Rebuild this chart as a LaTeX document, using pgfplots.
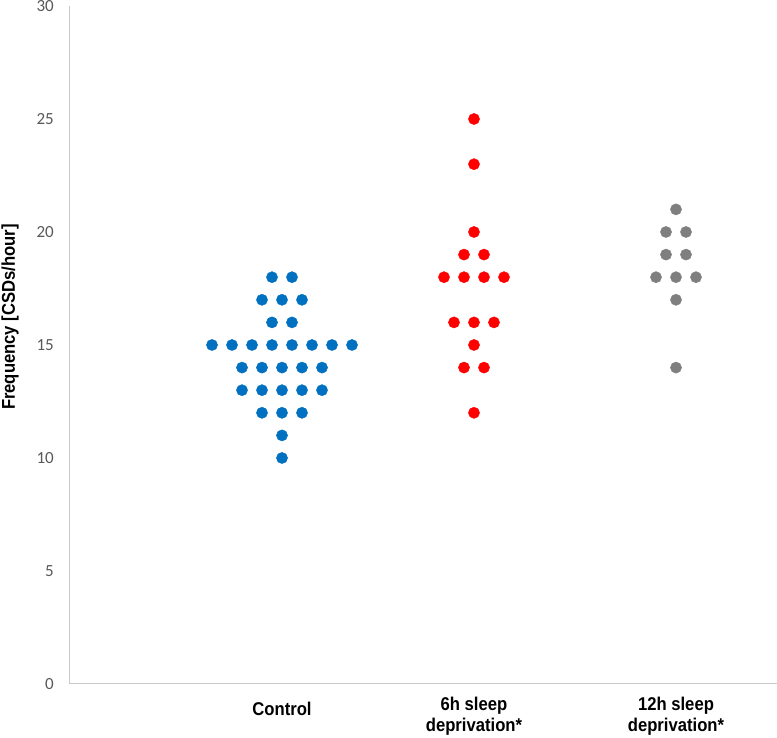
\documentclass[border=0pt]{standalone}
\usepackage{fontspec}
\setmainfont{Liberation Sans}
\newfontfamily\calibri{Carlito}
\newfontfamily\narrowbold[FakeStretch=0.9]{Liberation Sans Bold}
\usepackage{pgfplots}
\pgfplotsset{compat=1.18}
\definecolor{cblue}{HTML}{0070C0}
\definecolor{cred}{HTML}{FF0000}
\definecolor{cgray}{HTML}{7F7F7F}
\definecolor{axgray}{HTML}{C8C8C8}
\definecolor{tickgray}{HTML}{595959}
\begin{document}
\begin{tikzpicture}
\path[use as bounding box] (-70pt,-54pt) rectangle (707pt,684pt);
\begin{axis}[
  at={(0pt,0pt)}, anchor=south west,
  scale only axis, width=707pt, height=678pt,
  xmin=-0.06, xmax=3.475, ymin=0, ymax=30,
  axis x line=bottom, axis y line=left,
  axis line style={axgray, line width=1pt, -},
  ytick={0,5,...,30},
  xtick={1,1.96,2.97},
  xticklabels={\rule{0pt}{19pt}Control, {6h sleep\\deprivation*}, {12h sleep\\deprivation*}},
  major tick length=0pt,
  /pgf/number format/assume math mode=true,
  yticklabel style={font=\calibri\fontsize{17}{17}\selectfont, text=tickgray, anchor=east, inner sep=0pt, xshift=-16pt},
  xticklabel style={font=\narrowbold\fontsize{18.5}{21.5}\selectfont, align=center, anchor=north, inner sep=0pt, yshift=-12.5pt},
  ylabel={Frequency [CSDs/hour]},
  ylabel style={font=\narrowbold\fontsize{18.5}{18.5}\selectfont, at={(axis description cs:-0.0849,0.5413)}, anchor=center},
  clip=false,
]
\addplot[only marks, mark=*, mark size=5.6pt, color=cblue] coordinates {
(0.95,18)(1.05,18)
(0.9,17)(1.0,17)(1.1,17)
(0.95,16)(1.05,16)
(0.65,15)(0.75,15)(0.85,15)(0.95,15)(1.05,15)(1.15,15)(1.25,15)(1.35,15)
(0.8,14)(0.9,14)(1.0,14)(1.1,14)(1.2,14)
(0.8,13)(0.9,13)(1.0,13)(1.1,13)(1.2,13)
(0.9,12)(1.0,12)(1.1,12)
(1.0,11)(1.0,10)
};
\addplot[only marks, mark=*, mark size=5.6pt, color=cred] coordinates {
(1.96,25)
(1.96,23)
(1.96,20)
(1.91,19)(2.01,19)
(1.81,18)(1.91,18)(2.01,18)(2.11,18)
(1.86,16)(1.96,16)(2.06,16)
(1.96,15)
(1.91,14)(2.01,14)
(1.96,12)
};
\addplot[only marks, mark=*, mark size=5.6pt, color=cgray] coordinates {
(2.97,21)
(2.92,20)(3.02,20)
(2.92,19)(3.02,19)
(2.87,18)(2.97,18)(3.07,18)
(2.97,17)
(2.97,14)
};
\end{axis}
\end{tikzpicture}
\end{document}
